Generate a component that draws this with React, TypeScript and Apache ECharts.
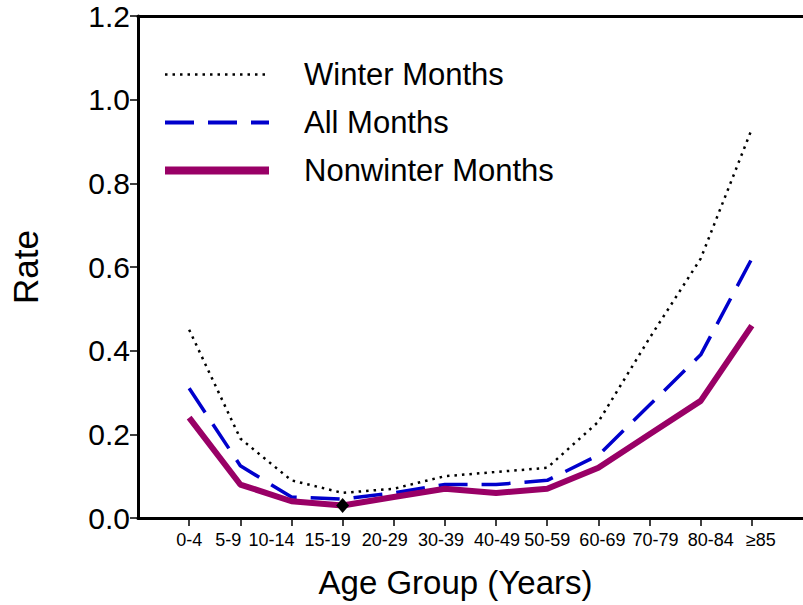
import React, { useEffect, useRef } from "react";
import * as echarts from "echarts";

const categories = ["0-4", "5-9", "10-14", "15-19", "20-29", "30-39", "40-49", "50-59", "60-69", "70-79", "80-84", "≥85"];
const winterMonths = [0.45, 0.19, 0.09, 0.06, 0.07, 0.10, 0.11, 0.12, 0.23, 0.43, 0.62, 0.93];
const allMonths = [0.31, 0.125, 0.05, 0.045, 0.06, 0.08, 0.08, 0.09, 0.15, 0.27, 0.39, 0.62];
const nonwinterMonths = [0.24, 0.08, 0.04, 0.03, 0.05, 0.07, 0.06, 0.07, 0.12, 0.20, 0.28, 0.46];
const yTicks = [0, 0.2, 0.4, 0.6, 0.8, 1.0, 1.2];
const markedIndex = 3;
// horizontal nudge (px) of each tick label, as in the source layout
const labelShift = [0, -12, -20, -15, -9, -4, 1, 0, 4, 6, 10, 9];

const FONT = "'Liberation Sans', Arial, Helvetica, sans-serif";

export default function App() {
  const ref = useRef<HTMLDivElement>(null);
  useEffect(() => {
    if (!ref.current) return;
    const chart = echarts.init(ref.current, null, { renderer: "svg" });
    const idx = categories.map((_, i) => i);
    const toPairs = (arr: number[]) => arr.map((v, i) => [i, v]);
    const nonwinterData: any[] = nonwinterMonths.map((v, i) =>
      i === markedIndex
        ? { value: [i, v], symbol: "diamond", symbolSize: [13, 15], itemStyle: { color: "#000" } }
        : [i, v]
    );
    const rich: Record<string, any> = {};
    labelShift.forEach((s, i) => {
      rich["c" + i] = {
        fontFamily: FONT,
        fontSize: 18,
        color: "#000",
        padding: s < 0 ? [0, -2 * s, 0, 0] : [0, 0, 0, 2 * s],
      };
    });
    const hiddenIcon = { color: "rgba(0,0,0,0)", opacity: 0, borderWidth: 0 };
    chart.setOption({
      animation: false,
      backgroundColor: "#fff",
      grid: { left: 137.5, right: 0, top: 16, bottom: 87 },
      legend: {
        orient: "vertical",
        left: 156,
        top: 54,
        itemWidth: 104,
        itemHeight: 14,
        itemGap: 17,
        textStyle: { fontFamily: FONT, fontSize: 31, color: "#000", padding: [0, 0, 0, 30] },
        data: [
          { name: "Winter Months", itemStyle: hiddenIcon, lineStyle: { width: 2.5, type: [2.5, 5], color: "#000" } },
          { name: "All Months", itemStyle: hiddenIcon, lineStyle: { width: 4, type: [29, 14], color: "#0000CC" } },
          { name: "Nonwinter Months", itemStyle: hiddenIcon, lineStyle: { width: 8, color: "#990066" } },
        ],
      },
      xAxis: [
        {
          type: "value",
          min: -1,
          max: 12,
          interval: 1,
          name: "Age Group (Years)",
          nameLocation: "middle",
          nameGap: 48,
          nameTextStyle: { fontFamily: FONT, fontSize: 33, color: "#000", padding: [0, 30, 0, 0] },
          axisLine: { show: true, onZero: false, lineStyle: { color: "#000", width: 3 } },
          axisTick: { show: true, length: 8, customValues: idx, lineStyle: { color: "#000", width: 1.5 } },
          axisLabel: {
            customValues: idx,
            formatter: (v: number) => (categories[v] != null ? `{c${v}|${categories[v]}}` : ""),
            rich,
            fontFamily: FONT,
            fontSize: 18,
            color: "#000",
            margin: 13,
          },
          splitLine: { show: false },
        },
        {
          type: "value",
          position: "top",
          min: -1,
          max: 12,
          interval: 1,
          axisLine: { show: true, onZero: false, lineStyle: { color: "#000", width: 3 } },
          axisTick: { show: false },
          axisLabel: { show: false },
          splitLine: { show: false },
        },
      ],
      yAxis: {
        type: "value",
        min: yTicks[0],
        max: yTicks[yTicks.length - 1],
        interval: 0.2,
        name: "Rate",
        nameLocation: "middle",
        nameGap: 95,
        nameTextStyle: { fontFamily: FONT, fontSize: 35, color: "#000" },
        axisLine: { show: true, onZero: false, lineStyle: { color: "#000", width: 3 } },
        axisTick: { show: true, length: 8, lineStyle: { color: "#000", width: 1.5 } },
        axisLabel: {
          formatter: (v: number) => v.toFixed(1),
          fontFamily: FONT,
          fontSize: 30,
          color: "#000",
          margin: 8,
        },
        splitLine: { show: false },
      },
      series: [
        {
          name: "Winter Months",
          type: "line",
          symbol: "none",
          data: toPairs(winterMonths),
          lineStyle: { color: "#000", width: 2.5, type: [2.5, 5], cap: "butt" },
          itemStyle: { color: "#000" },
          z: 2,
        },
        {
          name: "All Months",
          type: "line",
          symbol: "none",
          data: toPairs(allMonths),
          lineStyle: { color: "#0000CC", width: 3.5, type: [29, 14] },
          itemStyle: { color: "#0000CC" },
          z: 3,
        },
        {
          name: "Nonwinter Months",
          type: "line",
          symbol: "none",
          showSymbol: true,
          data: nonwinterData,
          lineStyle: { color: "#990066", width: 6 },
          itemStyle: { color: "#990066" },
          z: 4,
        },
      ],
    });
    return () => chart.dispose();
  }, []);
  return <div ref={ref} style={{ position: "absolute", left: 0, top: 0, width: 803, height: 605 }} />;
}
